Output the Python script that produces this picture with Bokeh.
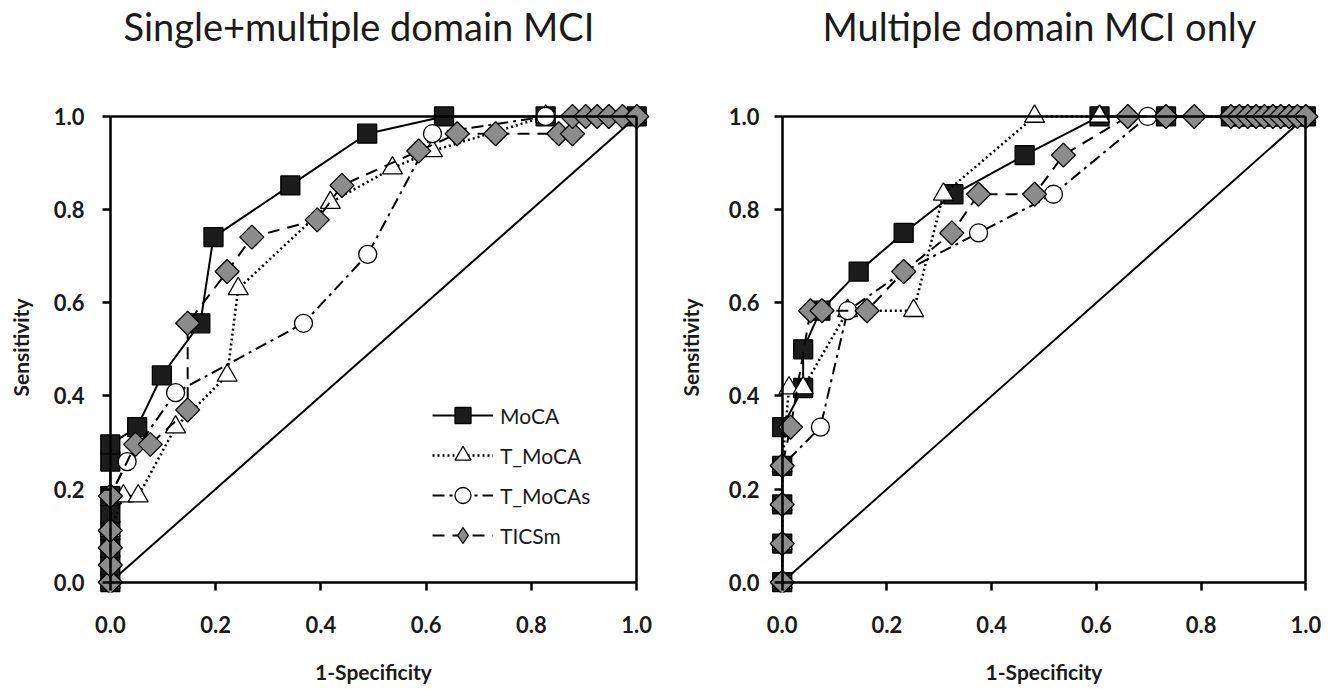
import numpy as np
from bokeh.plotting import figure
from bokeh.layouts import row
from bokeh.models import (Range1d, LinearAxis, FixedTicker, NumeralTickFormatter,
                          CustomJSTickFormatter, Legend, LegendItem, Title)
from bokeh.embed import file_html
from bokeh.resources import INLINE

FONT = "Lato"

# ---------------- Data: left panel (single + multiple domain MCI) ----------------
L_moca_x = [0, 0, 0, 0, 0, 0, 0, 0, 0.051, 0.098, 0.171, 0.196, 0.342, 0.488, 0.634, 0.827, 1.0]
L_moca_y = [0, 0.037, 0.074, 0.111, 0.148, 0.185, 0.259, 0.296, 0.333, 0.444, 0.556, 0.741, 0.852, 0.963, 1.0, 1.0, 1.0]

L_tmoca_x = [0, 0, 0.025, 0.053, 0.124, 0.222, 0.243, 0.418, 0.536, 0.612, 0.827, 1.0]
L_tmoca_y = [0, 0.111, 0.185, 0.185, 0.333, 0.444, 0.630, 0.815, 0.889, 0.926, 1.0, 1.0]

L_tmocas_x = [0, 0, 0.032, 0.124, 0.367, 0.489, 0.612, 0.827, 1.0]
L_tmocas_y = [0, 0.185, 0.259, 0.407, 0.556, 0.704, 0.963, 1.0, 1.0]

L_tics_x = [0, 0, 0, 0, 0, 0.048, 0.076, 0.147, 0.147, 0.222, 0.269, 0.393, 0.440, 0.586,
            0.659, 0.732, 0.852, 0.878, 0.878, 0.903, 0.925, 0.947, 0.973, 1.0]
L_tics_y = [0, 0.037, 0.074, 0.111, 0.185, 0.296, 0.296, 0.370, 0.556, 0.667, 0.741, 0.778, 0.852, 0.926,
            0.963, 0.963, 0.963, 0.963, 1.0, 1.0, 1.0, 1.0, 1.0, 1.0]

# ---------------- Data: right panel (multiple domain MCI only) ----------------
R_moca_x = [0, 0, 0, 0, 0, 0.040, 0.040, 0.073, 0.146, 0.232, 0.327, 0.463, 0.606, 0.733,
            0.857, 0.873, 0.889, 0.905, 0.921, 0.937, 0.952, 0.968, 0.984, 1.0]
R_moca_y = [0, 0.083, 0.167, 0.250, 0.333, 0.417, 0.500, 0.583, 0.667, 0.750, 0.833, 0.917, 1.0, 1.0,
            1.0, 1.0, 1.0, 1.0, 1.0, 1.0, 1.0, 1.0, 1.0, 1.0]

R_tmoca_x = [0, 0, 0, 0, 0.013, 0.040, 0.125, 0.251, 0.308, 0.482, 0.606, 1.0]
R_tmoca_y = [0, 0.083, 0.167, 0.250, 0.417, 0.417, 0.583, 0.583, 0.833, 1.0, 1.0, 1.0]

R_tmocas_x = [0, 0, 0, 0, 0.073, 0.125, 0.232, 0.375, 0.518, 0.698, 1.0]
R_tmocas_y = [0, 0.083, 0.167, 0.250, 0.333, 0.583, 0.667, 0.750, 0.833, 1.0, 1.0]

R_tics_x = [0, 0, 0, 0, 0.016, 0.054, 0.076, 0.162, 0.232, 0.324, 0.375, 0.482, 0.537, 0.660,
            0.733, 0.787, 0.857, 0.873, 0.889, 0.905, 0.921, 0.937, 0.952, 0.968, 0.984, 1.0]
R_tics_y = [0, 0.083, 0.167, 0.250, 0.333, 0.583, 0.583, 0.583, 0.667, 0.750, 0.833, 0.833, 0.917, 1.0,
            1.0, 1.0, 1.0, 1.0, 1.0, 1.0, 1.0, 1.0, 1.0, 1.0, 1.0, 1.0]

series_names = ["MoCA", "T_MoCA", "T_MoCAs", "TICSm"]
tick_values = [0.0, 0.2, 0.4, 0.6, 0.8, 1.0]

STYLES = {
    "MoCA":    dict(dash="solid",    lw=2.0, marker="square",   size=19, fill="#1c1c1c", angle=0.0),
    "T_MoCA":  dict(dash="2 3",      lw=2.5, marker="triangle", size=20, fill="white",   angle=0.0),
    "T_MoCAs": dict(dash="12 5 3 5", lw=2.0, marker="circle",   size=18, fill="white",   angle=0.0),
    "TICSm":   dict(dash="12 8",     lw=2.0, marker="square",   size=17, fill="#8c8c8c", angle=np.pi / 4),
}

TOP = 102
FRAME_H = 490
BOTTOM = 95
H = TOP + FRAME_H + BOTTOM


def label_axis(ax, label, label_standoff, title_standoff):
    """Frame-edge axis: only tick labels and axis title."""
    ax.ticker = FixedTicker(ticks=tick_values)
    ax.formatter = NumeralTickFormatter(format="0.0")
    ax.axis_line_color = None
    ax.major_tick_line_color = None
    ax.minor_tick_line_color = None
    ax.major_tick_out = 0
    ax.major_tick_in = 0
    ax.minor_tick_out = 0
    ax.minor_tick_in = 0
    ax.major_label_text_font = FONT
    ax.major_label_text_font_size = "22px"
    ax.major_label_text_font_style = "bold"
    ax.major_label_text_color = "#1a1a1a"
    ax.major_label_standoff = label_standoff
    ax.axis_label = label
    ax.axis_label_text_font = FONT
    ax.axis_label_text_font_size = "21px"
    ax.axis_label_text_font_style = "bold"
    ax.axis_label_text_color = "#1a1a1a"
    ax.axis_label_standoff = title_standoff


def line_axis(p, side, loc, ticks):
    """Axis drawn at a data location: line and outward ticks, no labels."""
    ax = LinearAxis(fixed_location=loc, bounds=(0, 1), ticker=FixedTicker(ticks=ticks),
                    formatter=CustomJSTickFormatter(code="return ''"),
                    axis_line_width=2.5, axis_line_color="black",
                    major_tick_line_width=2.5, major_tick_line_color="black",
                    major_tick_out=8, major_tick_in=0,
                    minor_tick_line_color=None)
    p.add_layout(ax, side)


def build(title_text, data, mbl, mbr, width, title_offset, ylab_standoff, ytitle_standoff, legend=False):
    p = figure(width=width, height=H,
               x_range=Range1d(-0.03, 1.03), y_range=Range1d(-0.022, 1.03),
               output_backend="svg", toolbar_location=None, title_location=None,
               min_border_left=mbl, min_border_right=mbr,
               min_border_top=TOP, min_border_bottom=BOTTOM)
    p.grid.visible = False
    p.outline_line_color = None
    p.background_fill_color = "white"
    p.border_fill_color = "white"

    label_axis(p.xaxis[0], "1-Specificity", 23, 23)
    label_axis(p.yaxis[0], "Sensitivity", ylab_standoff, ytitle_standoff)
    line_axis(p, "below", 0, tick_values)
    line_axis(p, "left", 0, tick_values)
    line_axis(p, "above", 1, [])
    line_axis(p, "right", 1, [])

    # invisible spacer between the frame and the title
    spacer = LinearAxis(ticker=FixedTicker(ticks=[0.5]), axis_line_color=None,
                        formatter=CustomJSTickFormatter(code="return ''"),
                        major_tick_line_color=None, minor_tick_line_color=None,
                        major_tick_out=54, major_tick_in=0, minor_tick_out=0, minor_tick_in=0,
                        major_label_standoff=0)
    p.add_layout(spacer, "above")
    p.add_layout(Title(text=title_text, align="left", offset=title_offset, standoff=0,
                       vertical_align="bottom", text_font=FONT, text_font_size="38px",
                       text_font_style="normal", text_color="#1a1a1a"), "above")

    # reference diagonal
    p.line([0, 1], [0, 1], line_color="black", line_width=2)

    items = []
    for name in series_names:
        xs, ys = data[name]
        st = STYLES[name]
        lr = p.line(xs, ys, line_color="black", line_width=st["lw"], line_dash=st["dash"])
        if name == "TICSm":
            # diamond symbol for the legend, its single point lies under the first marker
            lm = p.scatter(xs[:1], ys[:1], marker="diamond", size=st["size"],
                           fill_color=st["fill"], line_color="black", line_width=1.3)
        sr = p.scatter(xs, ys, marker=st["marker"], size=st["size"], angle=st["angle"],
                       fill_color=st["fill"], line_color="black", line_width=1.3)
        if name != "TICSm":
            lm = sr
        items.append(LegendItem(label=name, renderers=[lr, lm]))

    if legend:
        lg = Legend(items=items, location=(338, 37), orientation="vertical",
                    glyph_width=61, glyph_height=40, label_height=40, spacing=0,
                    padding=0, margin=0, label_standoff=7,
                    label_text_font=FONT, label_text_font_size="21px",
                    label_text_color="#1a1a1a",
                    border_line_color=None, background_fill_alpha=0)
        p.add_layout(lg)
    return p


left_data = {"MoCA": (L_moca_x, L_moca_y), "T_MoCA": (L_tmoca_x, L_tmoca_y),
             "T_MoCAs": (L_tmocas_x, L_tmocas_y), "TICSm": (L_tics_x, L_tics_y)}
right_data = {"MoCA": (R_moca_x, R_moca_y), "T_MoCA": (R_tmoca_x, R_tmoca_y),
              "T_MoCAs": (R_tmocas_x, R_tmocas_y), "TICSm": (R_tics_x, R_tics_y)}

p1 = build("Single+multiple domain MCI", left_data, 94, 22, 674, 29, 10, 18, legend=True)
p2 = build("Multiple domain MCI only", right_data, 90, 12, 659, 56, 7, 23)

layout = row(p1, p2)
open("out.html", "w").write(file_html(layout, INLINE))
